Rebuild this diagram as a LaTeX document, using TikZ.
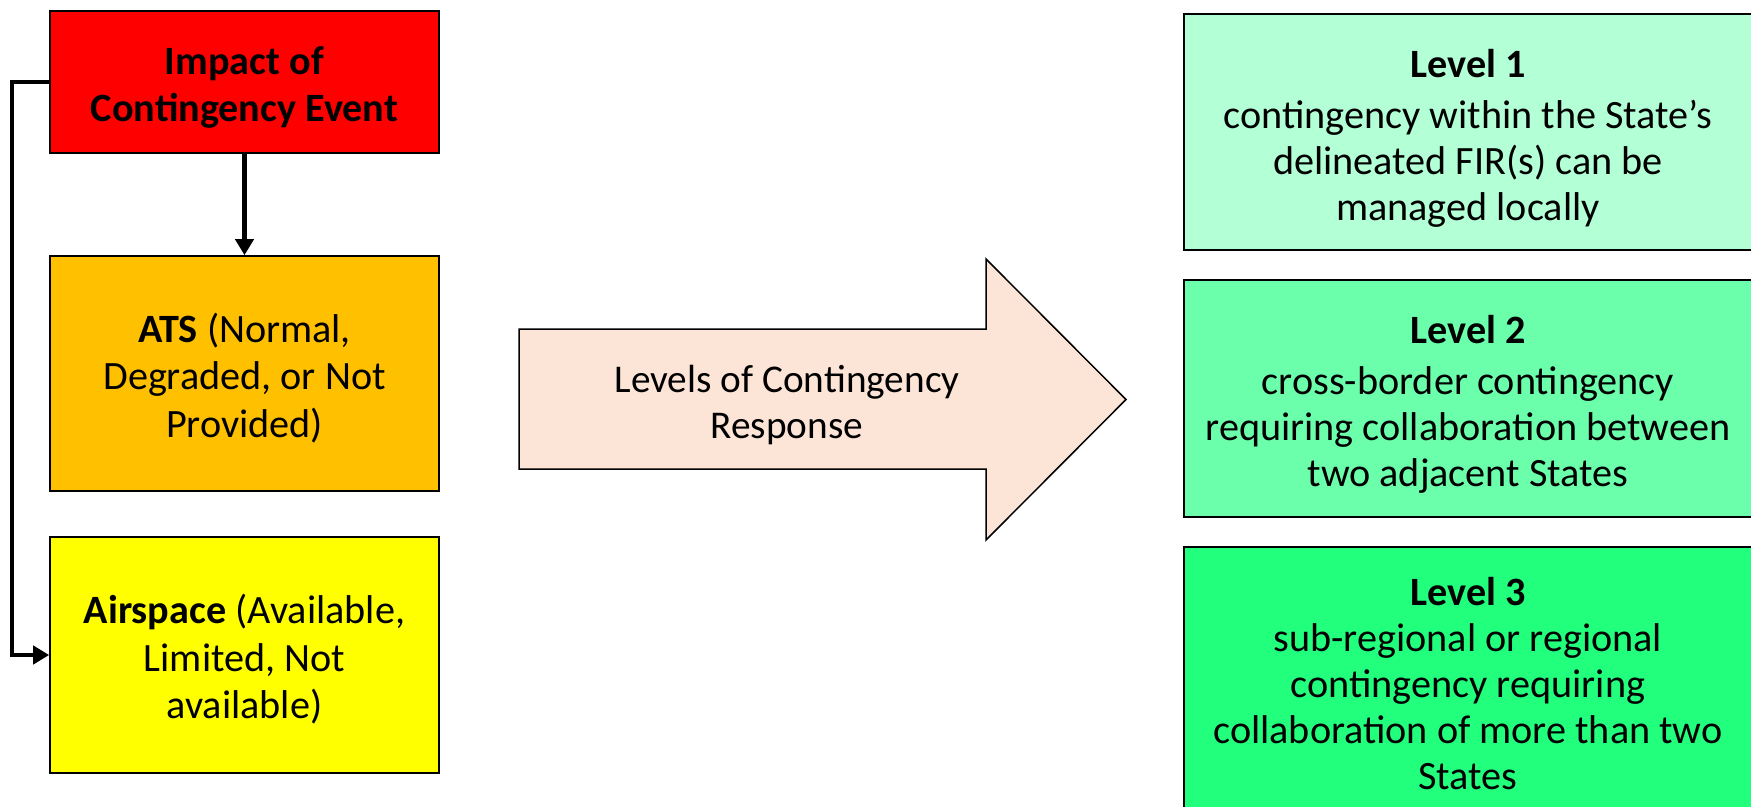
\documentclass[tikz,border=0pt]{standalone}
\usepackage{fontspec}
\setmainfont{Carlito}
\usetikzlibrary{arrows.meta}
\definecolor{redc}{RGB}{255,0,0}
\definecolor{orangec}{RGB}{255,192,0}
\definecolor{yellowc}{RGB}{255,255,0}
\definecolor{peach}{RGB}{252,228,214}
\definecolor{lvone}{RGB}{179,255,214}
\definecolor{lvtwo}{RGB}{107,255,172}
\definecolor{lvthree}{RGB}{33,255,125}
\newcommand{\tst}[1]{\rule{0pt}{#1em}}
\newcommand{\bst}{\rule[-0.25em]{0pt}{0pt}}
\tikzset{
  lbox/.style={draw=black, line width=1.6pt, minimum width=389pt, align=center, inner sep=0pt,
    font=\fontsize{40.2}{47.5}\selectfont},
  rbox/.style={draw=black, line width=1.6pt, minimum width=568pt, align=center, inner sep=0pt,
    font=\fontsize{40.2}{46}\selectfont},
  conn/.style={line width=4.5pt, -{Triangle[width=18pt,length=16pt]}},
  bigarrow/.style={draw=black, line width=1.5pt, fill=peach, line join=miter}
}
\begin{document}
\begin{tikzpicture}[x=1pt,y=-1pt]
\useasboundingbox (0,0) rectangle (1751,806);
\clip (0,0) rectangle (1751,806);
\fill[white] (0,0) rectangle (1751,806);
% left column
\node[lbox, fill=redc, minimum height=142pt] (imp) at (244.5,82) {\tst{1.05}\textbf{Impact of}\\\textbf{Contingency Event}\bst};
\node[lbox, fill=orangec, minimum height=235pt] (ats) at (244.5,373.5) {\tst{1.05}\textbf{ATS} (Normal,\\Degraded, or Not\\Provided)\bst};
\node[lbox, fill=yellowc, minimum height=236pt] (air) at (244.5,655) {\tst{1.05}\textbf{Airspace} (Available,\\Limited, Not\\available)\bst};
\draw[conn] (imp.south) -- (ats.north);
\draw[conn] ([xshift=1pt]imp.west) -- ++(-38,0) |- (air.west);
% big arrow
\draw[bigarrow] (519,329) -- (986,329) -- (986,259) -- (1126,399.5) -- (986,540) -- (986,469) -- (519,469) -- cycle;
\node[align=center, inner sep=0pt, font=\fontsize{39.3}{46}\selectfont] (lvl) at (787,402) {\tst{0.95}Levels of Contingency\\Response\bst};
% right column
\node[rbox, fill=lvone, minimum height=236pt] (l1) at (1468,132) {\tst{1.08}\textbf{Level 1}\\[5pt]contingency within the State’s\\delineated FIR(s) can be\\managed locally\bst};
\node[rbox, fill=lvtwo, minimum height=237pt] (l2) at (1468,398.5) {\tst{1.08}\textbf{Level 2}\\[5pt]cross-border contingency\\requiring collaboration between\\two adjacent States\bst};
\node[rbox, fill=lvthree, minimum height=267pt] (l3) at (1468,680.5) {\tst{1.08}\textbf{Level 3}\\sub-regional or regional\\contingency requiring\\collaboration of more than two\\States\bst};
\end{tikzpicture}
\end{document}
